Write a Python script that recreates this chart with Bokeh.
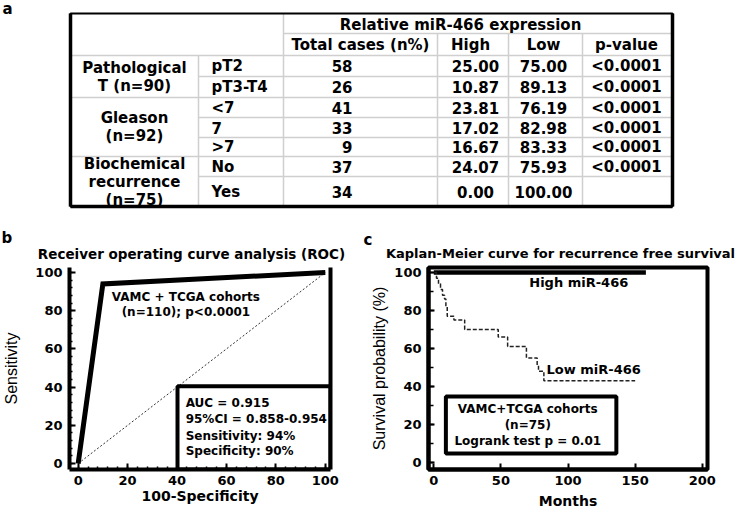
from bokeh.plotting import figure
from bokeh.layouts import column, row
from bokeh.models import Range1d, LinearAxis, SingleIntervalTicker, FixedTicker
from bokeh.core.properties import value
from bokeh.embed import file_html
from bokeh.resources import INLINE

# ---------------- data ----------------
group_labels = ["Pathological\nT (n=90)", "Gleason\n(n=92)", "Biochemical\nrecurrence\n(n=75)"]
group_sizes = [2, 3, 2]
sub_labels = ["pT2", "pT3-T4", "<7", "7", ">7", "No", "Yes"]
total_cases = ["58", "26", "41", "33", "9", "37", "34"]
high_pct = ["25.00", "10.87", "23.81", "17.02", "16.67", "24.07", "0.00"]
low_pct = ["75.00", "89.13", "76.19", "82.98", "83.33", "75.93", "100.00"]
p_values = ["<0.0001", "<0.0001", "<0.0001", "<0.0001", "<0.0001", "<0.0001", ""]
header_top = "Relative miR-466 expression"
header_cols = ["Total cases (n%)", "High", "Low", "p-value"]

roc_title = "Receiver operating curve analysis (ROC)"
roc_fpr = [0, 10, 100]
roc_tpr = [0, 94, 100]
chance_x = [0, 100]
chance_y = [0, 100]
roc_cohort = ["VAMC + TCGA cohorts", "(n=110); p<0.0001"]
roc_stats = ["AUC    = 0.915", "95%CI = 0.858-0.954", "Sensitivity: 94%", "Specificity: 90%"]

km_title = "Kaplan-Meier curve for recurrence free survival"
km_high_months = [0, 158]
km_high_surv = [100, 100]
km_low_months = [0, 2, 3.5, 5, 6.5, 8, 9, 10, 15, 23, 48, 55, 69, 77, 78, 82, 150]
km_low_surv = [100, 97, 94, 91, 88, 86, 82, 77, 75, 70, 66, 61, 55, 51, 48, 43, 43]
km_box_lines = ["VAMC+TCGA cohorts", "(n=75)", "Logrank test p = 0.01"]

# ---------------- layout constants ----------------
FONT = value("DejaVu Sans")
COL = [70, 198, 283, 437, 508, 582, 672]
ROW = [13, 33, 55, 76, 97, 117, 137, 156, 176, 206]
TS = "15px"
W, H_TOP, H_BOT = 737, 262, 250

# ---------------- top panel (table + panel captions) ----------------
top = figure(width=W, height=H_TOP, x_range=Range1d(0, W), y_range=Range1d(H_TOP, 0),
             output_backend="svg", toolbar_location=None,
             x_axis_location=None, y_axis_location=None,
             min_border_left=0, min_border_right=0, min_border_top=0, min_border_bottom=0)
top.grid.visible = False
top.outline_line_color = None

x0s, y0s, x1s, y1s = [], [], [], []
def hseg(xa, xb, y):
    x0s.append(xa); x1s.append(xb); y0s.append(y); y1s.append(y)
def vseg(x, ya, yb):
    x0s.append(x); x1s.append(x); y0s.append(ya); y1s.append(yb)

hseg(COL[2], COL[6], ROW[1])
hseg(COL[0], COL[6], ROW[2])
r = 2
for g, n in enumerate(group_sizes):
    for k in range(1, n):
        hseg(COL[1], COL[6], ROW[r + k])
    r += n
    if g < len(group_sizes) - 1:
        hseg(COL[0], COL[6], ROW[r])
vseg(COL[1], ROW[2], ROW[-1])
vseg(COL[2], ROW[0], ROW[-1])
for c in COL[3:6]:
    vseg(c, ROW[1], ROW[-1])
top.segment(x0=x0s, y0=y0s, x1=x1s, y1=y1s, line_color="#cfcfcf", line_width=1.5)

top.quad(left=[COL[0]], right=[COL[6]], top=[ROW[0]], bottom=[ROW[-1]],
         fill_color=None, line_color="black", line_width=2)
top.segment(x0=[COL[0], COL[6], COL[0]], y0=[ROW[0], ROW[0], ROW[-1]],
            x1=[COL[0], COL[6], COL[6]], y1=[ROW[-1], ROW[-1], ROW[-1]],
            line_color="black", line_width=3.5)

def ttext(xs, ys, texts, align="center", size=TS, style="bold", baseline="middle"):
    top.text(x=xs, y=ys, text=texts, text_font=FONT, text_font_size=size,
             text_font_style=style, text_align=align, text_baseline=baseline,
             text_color="black", text_line_height=1.0)

ttext([460], [(ROW[0] + ROW[1]) / 2 + 1], [header_top])
hy = (ROW[1] + ROW[2]) / 2
ttext([360, 470, 543, 626], [hy] * 4, header_cols)

centers = [(ROW[i] + ROW[i + 1]) / 2 for i in range(2, 9)]
ttext([211] * 7, centers, sub_labels, align="left")
ttext([352] * 7, centers, total_cases, align="right")
ttext([475] * 7, centers, high_pct)
ttext([543] * 7, centers, low_pct)
ttext([626] * 7, centers, p_values)

gy = []
r = 2
for n in group_sizes:
    gy.append((ROW[r] + ROW[r + n]) / 2)
    r += n
ttext([(COL[0] + COL[1]) / 2] * 3, gy, group_labels)

ttext([2], [8], ["a"], align="left")
ttext([1], [237], ["b"], align="left")
ttext([363], [239], ["c"], align="left")
ttext([191], [253], [roc_title], size="13.5px")
ttext([560], [253], [km_title], size="13px")


def style_axis(ax, label, bold_label=True):
    ax.axis_label = label
    ax.axis_line_width = 4
    ax.axis_line_color = "black"
    ax.major_tick_in = 6
    ax.major_tick_out = 0
    ax.minor_tick_in = 3
    ax.minor_tick_out = 0
    ax.major_tick_line_width = 2
    ax.minor_tick_line_width = 1.5
    ax.major_label_text_font = "DejaVu Sans"
    ax.major_label_text_font_size = "13px"
    ax.major_label_text_font_style = "bold"
    ax.major_label_text_color = "black"
    ax.axis_label_text_color = "black"
    if bold_label:
        ax.axis_label_text_font = "DejaVu Sans"
        ax.axis_label_text_font_size = "14px"
        ax.axis_label_text_font_style = "bold"
    else:
        ax.axis_label_text_font = "Liberation Sans"
        ax.axis_label_text_font_size = "16px"
        ax.axis_label_text_font_style = "normal"


# ---------------- ROC panel ----------------
roc = figure(width=368, height=H_BOT, x_range=Range1d(-3.5, 102.1), y_range=Range1d(-3.1, 102.6),
             output_backend="svg", toolbar_location=None,
             min_border_left=68, min_border_right=38, min_border_top=3, min_border_bottom=43)
roc.grid.visible = False
roc.outline_line_color = None
roc.xaxis.ticker = SingleIntervalTicker(interval=20, num_minor_ticks=5)
roc.yaxis.ticker = SingleIntervalTicker(interval=20, num_minor_ticks=5)
style_axis(roc.xaxis[0], "100-Specificity")
style_axis(roc.yaxis[0], "Sensitivity", bold_label=False)
roc.xaxis.major_label_standoff = 6
roc.xaxis.axis_label_standoff = 0
roc.yaxis.major_label_standoff = 7
roc.yaxis.axis_label_standoff = 12
ra = LinearAxis(ticker=FixedTicker(ticks=[]), axis_line_width=4, axis_line_color="black",
                major_tick_in=0, major_tick_out=0, minor_tick_in=0, minor_tick_out=0,
                major_label_text_font_size="0px")
roc.add_layout(ra, "right")

roc.line(chance_x, chance_y, line_dash="2 2", line_width=1, line_color="#333333")
roc.line(roc_fpr, roc_tpr, line_width=5, line_color="black", line_join="miter")
roc.text(x=[43.6, 43.6], y=[87, 79.3], text=roc_cohort, text_font=FONT, text_font_size="12px",
         text_font_style="bold", text_align="center", text_baseline="middle", text_color="black")
roc.quad(left=[40.2], right=[102.1], bottom=[-3.1], top=[40.4],
         fill_color="white", line_color="black", line_width=4)
roc.text(x=[43.5] * 4, y=[31.8, 23.2, 14.5, 6.7], text=roc_stats, text_font=FONT,
         text_font_size="12px", text_font_style="bold", text_align="left",
         text_baseline="middle", text_color="black")

# ---------------- Kaplan-Meier panel ----------------
km = figure(width=W - 368, height=H_BOT, x_range=Range1d(-3.95, 203.9), y_range=Range1d(-3.7, 102.6),
            output_backend="svg", toolbar_location=None,
            min_border_left=60, min_border_right=30, min_border_top=5, min_border_bottom=43)
km.grid.visible = False
km.outline_line_color = "black"
km.outline_line_width = 4
km.xaxis.ticker = SingleIntervalTicker(interval=50, num_minor_ticks=0)
km.yaxis.ticker = SingleIntervalTicker(interval=20, num_minor_ticks=2)
style_axis(km.xaxis[0], "Months")
style_axis(km.yaxis[0], "Survival probability (%)", bold_label=False)
km.yaxis.minor_tick_in = 5
km.xaxis.major_label_standoff = 6
km.xaxis.axis_label_standoff = 5
km.yaxis.major_label_standoff = 7
km.yaxis.axis_label_standoff = 3

km.line(km_high_months, km_high_surv, line_width=4.5, line_color="black")
km.step(km_low_months, km_low_surv, mode="after", line_dash="4 2", line_width=1.5,
        line_color="#222222")
km.text(x=[108], y=[94.7], text=["High miR-466"], text_font=FONT, text_font_size="13px",
        text_font_style="bold", text_align="center", text_baseline="middle", text_color="black")
km.text(x=[84], y=[49], text=["Low miR-466"], text_font=FONT, text_font_size="13px",
        text_font_style="bold", text_align="left", text_baseline="middle", text_color="black")
km.quad(left=[9], right=[136], bottom=[4.7], top=[34.7],
        fill_color="white", line_color="black", line_width=4)
km.text(x=[70] * 3, y=[28.4, 19.5, 11.2], text=km_box_lines, text_font=FONT,
        text_font_size="12px", text_font_style="bold", text_align="center",
        text_baseline="middle", text_color="black")

layout = column(top, row(roc, km))
open("out.html", "w").write(file_html(layout, INLINE, title="miR-466"))
